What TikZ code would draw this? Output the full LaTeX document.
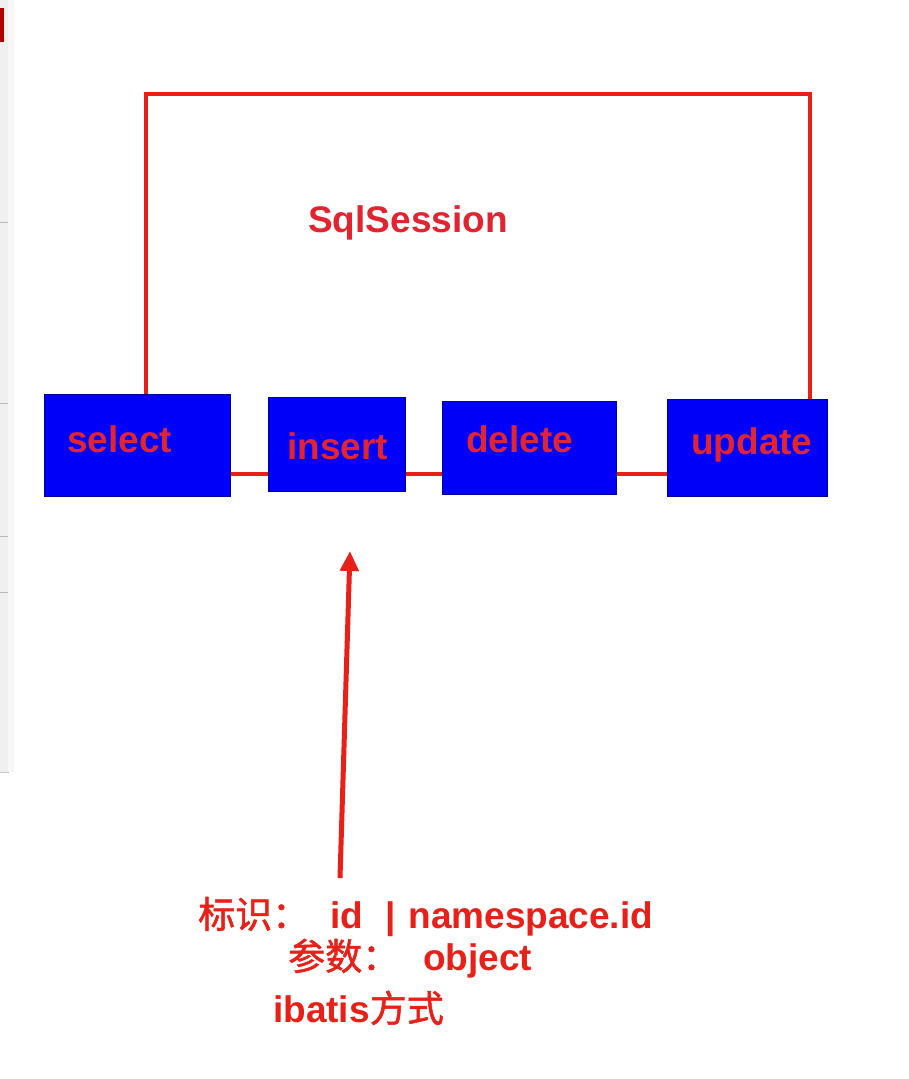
\documentclass[tikz,border=0pt]{standalone}
\usepackage{fontspec}
\setmainfont{Liberation Sans}
\newfontfamily\cjk[FakeBold=1.4]{Noto Sans CJK SC}
\usetikzlibrary{arrows.meta}
\definecolor{lred}{RGB}{232,32,24}
\definecolor{tred}{RGB}{226,36,48}
\definecolor{bblue}{RGB}{0,0,250}
\begin{document}
\begin{tikzpicture}[x=1pt,y=-1pt,
  op/.style={draw=blue!60!black,line width=0.6pt,fill=bblue,anchor=north west,inner sep=0pt},
  lbl/.style={anchor=base west,inner sep=0pt,text=tred,font=\fontsize{37}{40}\selectfont\bfseries},
  wire/.style={draw=lred,line width=4pt},
  note/.style={anchor=base west,inner sep=0pt,text=lred,font=\fontsize{37}{40}\selectfont\bfseries}]
\useasboundingbox (0,0) rectangle (908,1079);
\fill[white] (0,0) rectangle (908,1079);
% left UI strip
\fill[gray!12] (0,0) rectangle (8,772);
\draw[gray!45,line width=1pt] (8,0) -- (8,772) -- (0,772);
\fill[gray!6] (8,0) rectangle (14,772);
\foreach \yy in {222,403,536,592}{\draw[gray!55,line width=0.8pt] (0,\yy) -- (8,\yy);}
\fill[red!70!black] (0,8) rectangle (4,42);
% boxes
\node[op,minimum width=186pt,minimum height=102pt] (sel) at (44,394) {};
\node[op,minimum width=137pt,minimum height=94pt] (ins) at (268,397) {};
\node[op,minimum width=174pt,minimum height=93pt] (del) at (442,401) {};
\node[op,minimum width=160pt,minimum height=97pt] (upd) at (667,399) {};
% labels
\node[lbl] (tsel) at (67,452) {select};
\node[lbl] (tins) at (287,459) {insert};
\node[lbl] (tdel) at (466,452) {delete};
\node[lbl] (tupd) at (691,454) {update};
\node[lbl] (tss) at (308,232) {SqlSession};
% frame
\coordinate (cy) at (0,474);
\coordinate (fl) at (146,0);
\coordinate (fr) at (810,0);
\coordinate (ftop) at (0,94);
\draw[wire] (sel.north -| fl) -- (fl |- ftop) -- (fr |- ftop) -- (upd.north -| fr);
\draw[wire] (sel.east |- cy) -- (ins.west |- cy);
\draw[wire] (ins.east |- cy) -- (del.west |- cy);
\draw[wire] (del.east |- cy) -- (upd.west |- cy);
% arrow
\coordinate (atail) at (340,878);
\coordinate (ahead) at (350,551);
\draw[draw=lred,line width=5pt,-{Triangle[width=18pt,length=20pt]}] (atail) -- (ahead);
% notes
\node[note] (n1) at (198,928) {{\cjk\mdseries 标识：}\hspace{21pt}id\hspace{22pt}|\hspace{13pt}namespace.id};
\node[note] (n2) at (288,970) {{\cjk\mdseries 参数：}\hspace{24pt}object};
\node[note] (n3) at (273,1022) {ibatis{\cjk\mdseries 方式}};
\end{tikzpicture}
\end{document}
